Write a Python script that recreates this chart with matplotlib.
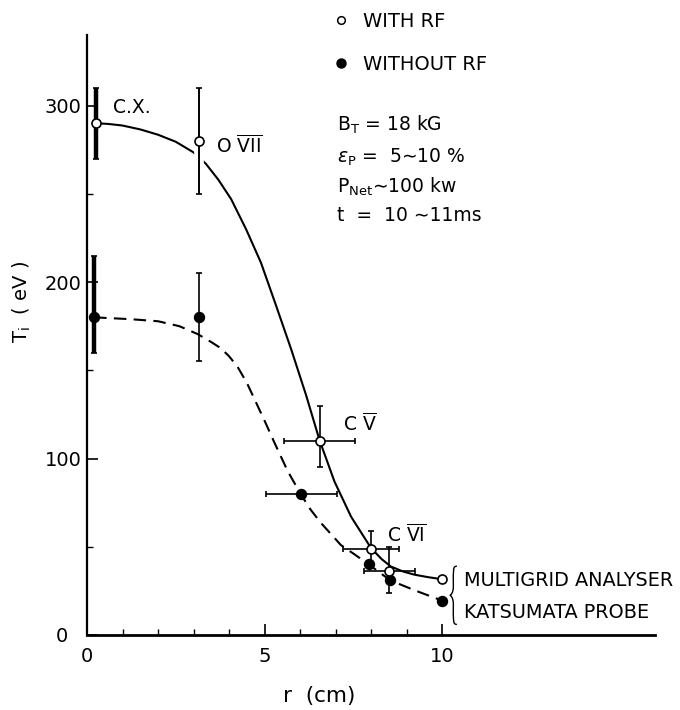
import matplotlib
matplotlib.use("Agg")
import matplotlib.pyplot as plt
from matplotlib.lines import Line2D
from matplotlib.path import Path
from matplotlib.patches import PathPatch
from matplotlib.transforms import ScaledTranslation
import matplotlib.patheffects as pe

# ---- measured ion temperatures ----
# with RF (open circles): C.X., O VII, C V, C VI, probe, multigrid analyser
r_rf = [0.25, 3.15, 6.55, 8.0, 8.52, 10.0]
T_rf = [290, 280, 110, 49, 36, 32]
T_rf_lo = [20, 30, 15, 10, 12, 0]
T_rf_hi = [20, 30, 20, 10, 14, 0]
r_rf_err = [0, 0, 1.0, 0.78, 0.73, 0]

# without RF (filled circles)
r_norf = [0.2, 3.15, 6.03, 7.95, 8.54, 10.0]
T_norf = [180, 180, 80, 40, 31, 19.5]
T_norf_lo = [20, 25, 0, 0, 0, 0]
T_norf_hi = [35, 25, 0, 0, 0, 0]
r_norf_err = [0, 0, 1.0, 0, 0, 0]

# hand-fitted profiles through the points
fit_r_rf = [0.25, 0.6, 1.0, 1.5, 2.0, 2.5, 3.0, 3.35, 3.7, 4.06, 4.48,
            4.9, 5.32, 5.75, 6.17, 6.55, 6.97, 7.44, 8.0, 8.3, 8.56, 8.9,
            9.22, 9.6, 10.0]
fit_T_rf = [290, 289.6, 288.7, 286.5, 283.5, 279.5, 273.5, 267, 258, 247,
            230, 211, 187, 162, 136, 110.4, 87, 67, 49.3, 43, 38.8, 36,
            34.2, 32.8, 31.6]
fit_r_norf = [0.2, 0.6, 1.2, 2.0, 2.6, 3.12, 3.5, 3.77, 4.0, 4.24, 4.5,
              4.71, 5.0, 5.28, 5.65, 6.03, 6.3, 6.59, 7.15, 7.55, 7.95,
              8.54, 9.22, 10.0]
fit_T_norf = [180, 179.6, 179, 177.8, 175, 170.5, 166, 162.5, 158, 152,
              143, 134, 121.5, 109, 93, 79.5, 71, 63.5, 51, 45.5, 39.8,
              31, 25.4, 19.5]

point_labels = ["C.X.", r"O $\overline{\mathrm{VII}}$",
                r"C $\overline{\mathrm{V}}$", r"C $\overline{\mathrm{VI}}$"]
label_r = [0.74, 3.63, 7.22, 8.44]
label_T = [299, 277, 120, 57]

y_ticks = [0, 100, 200, 300]
x_ticks = [0, 5, 10]

plt.rcParams["font.family"] = ["DejaVu Sans"]
plt.rcParams["mathtext.fontset"] = "dejavusans"

W, H = 680, 710
fig = plt.figure(figsize=(W / 100, H / 100), dpi=100)
fig.patch.set_facecolor("white")
x0, x1, yb, yt = 87, 655, 635, 35
ax = fig.add_axes([x0 / W, 1 - yb / H, (x1 - x0) / W, (yb - yt) / H])
ax.set_xlim(0, 16)
ax.set_ylim(0, 340)

for s in ("top", "right"):
    ax.spines[s].set_visible(False)
ax.spines["left"].set_linewidth(1.6)
ax.spines["bottom"].set_linewidth(2.0)

ax.set_xticks(x_ticks)
ax.set_xticks(range(1, 11), minor=True)
ax.set_yticks(y_ticks)
ax.set_yticks([50, 150, 250], minor=True)
ax.set_yticklabels([str(v) for v in y_ticks])
ax.set_xticklabels([str(v) for v in x_ticks])
ax.tick_params(axis="both", which="major", direction="in", length=8,
               width=1.2, labelsize=14)
ax.tick_params(axis="both", which="minor", direction="in", length=4,
               width=1.0)
ax.tick_params(axis="x", which="major", pad=9)
ax.tick_params(axis="y", which="major", pad=4)
# the zero of the T axis sits a little further out
ylab0 = ax.get_yticklabels()[0]
ylab0.set_transform(ylab0.get_transform()
                    + ScaledTranslation(-13 / 100, 0, fig.dpi_scale_trans))

ax.set_xlabel("r  (cm)", fontsize=15.5)
ax.set_ylabel(r"T$_\mathrm{i}$  ( eV )", fontsize=14)
ax.xaxis.set_label_coords(0.408, -0.085)
ax.yaxis.set_label_coords(-0.095, 0.555)

# fitted profiles
ax.plot(fit_r_rf, fit_T_rf, color="black", lw=1.5, zorder=2)
ax.plot(fit_r_norf, fit_T_norf, color="black", lw=1.5,
        ls=(0, (6, 3.5)), zorder=2)


def draw_errors(r, T, lo, hi, rerr, halo):
    for i in range(len(r)):
        thick = r[i] < 1
        if lo[i] > 0 or hi[i] > 0:
            eb = ax.errorbar(r[i], T[i], yerr=[[lo[i]], [hi[i]]], fmt="none",
                             ecolor="black", elinewidth=3.2 if thick else 1.2,
                             capsize=2.5, capthick=1.2, zorder=3)
            if halo and 2 < r[i] < 4:
                for ln in eb.lines[2]:
                    ln.set_path_effects([pe.withStroke(linewidth=7,
                                                       foreground="white"),
                                         pe.Normal()])
        if rerr[i] > 0:
            ax.errorbar(r[i], T[i], xerr=rerr[i], fmt="none", ecolor="black",
                        elinewidth=1.2, capsize=2.5, capthick=1.2, zorder=3)


draw_errors(r_rf, T_rf, T_rf_lo, T_rf_hi, r_rf_err, True)
draw_errors(r_norf, T_norf, T_norf_lo, T_norf_hi, r_norf_err, False)

ax.plot(r_norf, T_norf, "o", ls="none", ms=7.2, mfc="black", mec="black",
        zorder=5, clip_on=False)
ax.plot(r_rf, T_rf, "o", ls="none", ms=6.5, mfc="white", mec="black",
        mew=1.2, zorder=6, clip_on=False)

for txt, lr, lt in zip(point_labels, label_r, label_T):
    ax.text(lr, lt, txt, fontsize=13.5, ha="left", va="center")

# curly brace grouping the two r = 10 cm diagnostics
bx, btip, btop, bbot = 10.42, 10.22, 39, 6
bmid = (btop + bbot) / 2
verts = [(bx, btop), (bx - 0.12, btop), (bx - 0.1, btop - 2),
         (bx - 0.1, bmid + 5), (bx - 0.1, bmid + 1.5), (btip + 0.03, bmid),
         (btip, bmid),
         (btip + 0.03, bmid), (bx - 0.1, bmid - 1.5), (bx - 0.1, bmid - 5),
         (bx - 0.1, bbot + 2), (bx - 0.12, bbot), (bx, bbot)]
codes = [Path.MOVETO] + [Path.CURVE4] * 12
ax.add_patch(PathPatch(Path(verts, codes), fill=False, lw=1.0,
                       edgecolor="black", clip_on=False))
ax.text(10.62, 31, "MULTIGRID ANALYSER", fontsize=13.9, ha="left",
        va="center")
ax.text(10.62, 12.5, "KATSUMATA PROBE", fontsize=13.9, ha="left",
        va="center")

# marker key above the plot
handles = [Line2D([], [], marker="o", ls="none", ms=5.5, mfc="white",
                  mec="black", mew=1.1),
           Line2D([], [], marker="o", ls="none", ms=6.5, mfc="black",
                  mec="black")]
fig.legend(handles, ["WITH RF", "WITHOUT RF"], loc="upper left",
           bbox_to_anchor=(333 / W, 1 - 12 / H), frameon=False, fontsize=14,
           handlelength=0.8, handletextpad=0.75, labelspacing=1.25,
           borderpad=0, borderaxespad=0)

# discharge conditions
cond = [r"B$_\mathrm{T}$ = 18 kG",
        r"$\epsilon_\mathrm{P}$ =  5∼10 %",
        r"P$_\mathrm{Net}$∼100 kw",
        "t  =  10 ∼11ms"]
cond_y = [125, 157, 187, 215]
for txt, yy in zip(cond, cond_y):
    fig.text(337 / W, 1 - yy / H, txt, fontsize=13.5, ha="left", va="center")

fig.savefig("out.png", dpi=100, facecolor="white")
